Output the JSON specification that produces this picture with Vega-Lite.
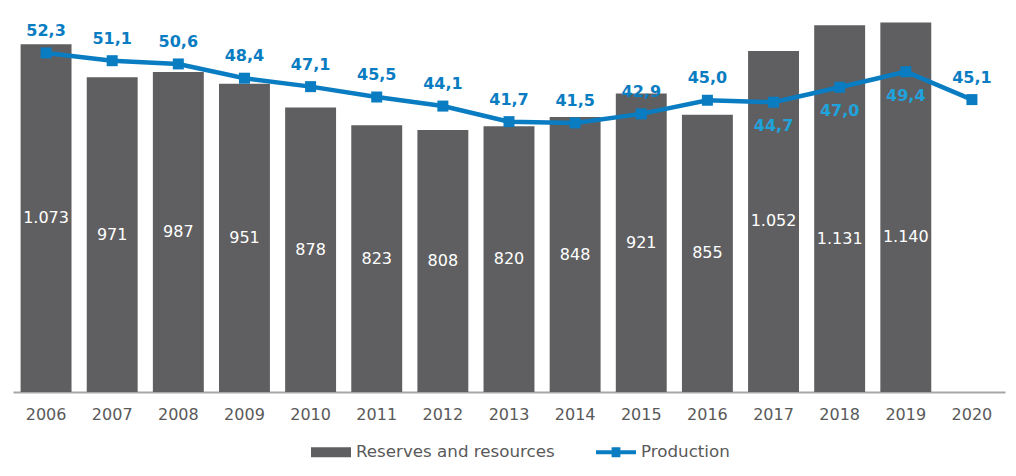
{
  "$schema": "https://vega.github.io/schema/vega-lite/v6.json",
  "width": 992,
  "height": 389,
  "autosize": "none",
  "padding": {"left": 13, "top": 3, "right": 11, "bottom": 84},
  "config": {
    "view": {"stroke": null},
    "font": "DejaVu Sans",
    "locale": {"number": {"decimal": ",", "thousands": ".", "grouping": [3], "currency": ["", "€"]}}
  },
  "data": {
    "values": [
      {"year": "2006", "reserves": 1073, "production": 52.3},
      {"year": "2007", "reserves": 971, "production": 51.1},
      {"year": "2008", "reserves": 987, "production": 50.6},
      {"year": "2009", "reserves": 951, "production": 48.4},
      {"year": "2010", "reserves": 878, "production": 47.1},
      {"year": "2011", "reserves": 823, "production": 45.5},
      {"year": "2012", "reserves": 808, "production": 44.1},
      {"year": "2013", "reserves": 820, "production": 41.7},
      {"year": "2014", "reserves": 848, "production": 41.5},
      {"year": "2015", "reserves": 921, "production": 42.9},
      {"year": "2016", "reserves": 855, "production": 45.0},
      {"year": "2017", "reserves": 1052, "production": 44.7},
      {"year": "2018", "reserves": 1131, "production": 47.0},
      {"year": "2019", "reserves": 1140, "production": 49.4},
      {"year": "2020", "reserves": null, "production": 45.1}
    ]
  },
  "encoding": {
    "x": {
      "field": "year",
      "type": "ordinal",
      "scale": {"paddingInner": 0.23, "paddingOuter": 0.115},
      "axis": {
        "title": null,
        "labelAngle": 0,
        "labelFontSize": 16,
        "labelColor": "#595959",
        "labelPadding": 14,
        "ticks": false,
        "domainColor": "#a6a6a6",
        "domainWidth": 2
      }
    }
  },
  "layer": [
    {
      "transform": [{"filter": "datum.reserves != null"}],
      "mark": {"type": "bar", "color": "#5f5f61"},
      "encoding": {
        "y": {"field": "reserves", "type": "quantitative", "scale": {"domain": [0, 1200]}, "axis": null},
        "color": {
          "datum": "Reserves and resources",
          "type": "nominal",
          "scale": {"domain": ["Reserves and resources", "Production"], "range": ["#5f5f61", "#0a7cc1"]},
          "legend": {
            "title": null,
            "orient": "none",
            "legendX": 298,
            "legendY": 429,
            "direction": "horizontal",
            "labelFontSize": 16.7,
            "labelColor": "#595959",
            "labelOffset": 5,
            "labelLimit": 0,
            "columnPadding": 41,
            "symbolSize": 1600,
            "symbolStrokeWidth": 0,
            "encode": {
              "symbols": {
                "update": {
                  "shape": {"signal": "datum.value === 'Production' ? 'M-1,-0.1H1V0.1H-1Z M-0.22,-0.25H0.22V0.25H-0.22Z' : 'M-1,-0.25H1V0.25H-1Z'"},
                  "fill": {"signal": "datum.value === 'Production' ? '#0a7cc1' : '#5f5f61'"},
                  "fillOpacity": {"value": 1},
                  "strokeWidth": {"value": 0}
                }
              }
            }
          }
        }
      }
    },
    {
      "transform": [{"filter": "datum.reserves != null && datum.year != '2018' && datum.year != '2019'"}],
      "mark": {"type": "text", "color": "white", "fontSize": 16, "baseline": "middle"},
      "encoding": {
        "y": {"field": "reserves", "type": "quantitative", "scale": {"domain": [0, 2400]}, "axis": null},
        "text": {"field": "reserves", "type": "quantitative", "format": ",d"}
      }
    },
    {
      "transform": [{"filter": "datum.year == '2018' || datum.year == '2019'"}],
      "mark": {"type": "text", "color": "white", "fontSize": 16, "baseline": "middle", "dy": 30},
      "encoding": {
        "y": {"field": "reserves", "type": "quantitative", "scale": {"domain": [0, 2400]}, "axis": null},
        "text": {"field": "reserves", "type": "quantitative", "format": ",d"}
      }
    },
    {
      "mark": {"type": "line", "color": "#0a7cc1", "strokeWidth": 4.5, "point": {"shape": "square", "size": 121, "filled": true, "color": "#0a7cc1"}},
      "encoding": {
        "y": {"field": "production", "type": "quantitative", "scale": {"domain": [0, 60]}, "axis": null},
        "color": {"datum": "Production", "type": "nominal"}
      }
    },
    {
      "transform": [{"filter": "datum.year != '2017' && datum.year != '2018' && datum.year != '2019'"}],
      "mark": {"type": "text", "color": "#0a7cc1", "fontSize": 16, "fontWeight": "bold", "baseline": "middle", "dy": -22},
      "encoding": {
        "y": {"field": "production", "type": "quantitative", "scale": {"domain": [0, 60]}, "axis": null},
        "text": {"field": "production", "type": "quantitative", "format": ".1f"}
      }
    },
    {
      "transform": [{"filter": "datum.year == '2017' || datum.year == '2018' || datum.year == '2019'"}],
      "mark": {"type": "text", "color": "#1fa3dc", "fontSize": 16, "fontWeight": "bold", "baseline": "middle", "dy": 24},
      "encoding": {
        "y": {"field": "production", "type": "quantitative", "scale": {"domain": [0, 60]}, "axis": null},
        "text": {"field": "production", "type": "quantitative", "format": ".1f"}
      }
    }
  ],
  "resolve": {"scale": {"y": "independent"}}
}
